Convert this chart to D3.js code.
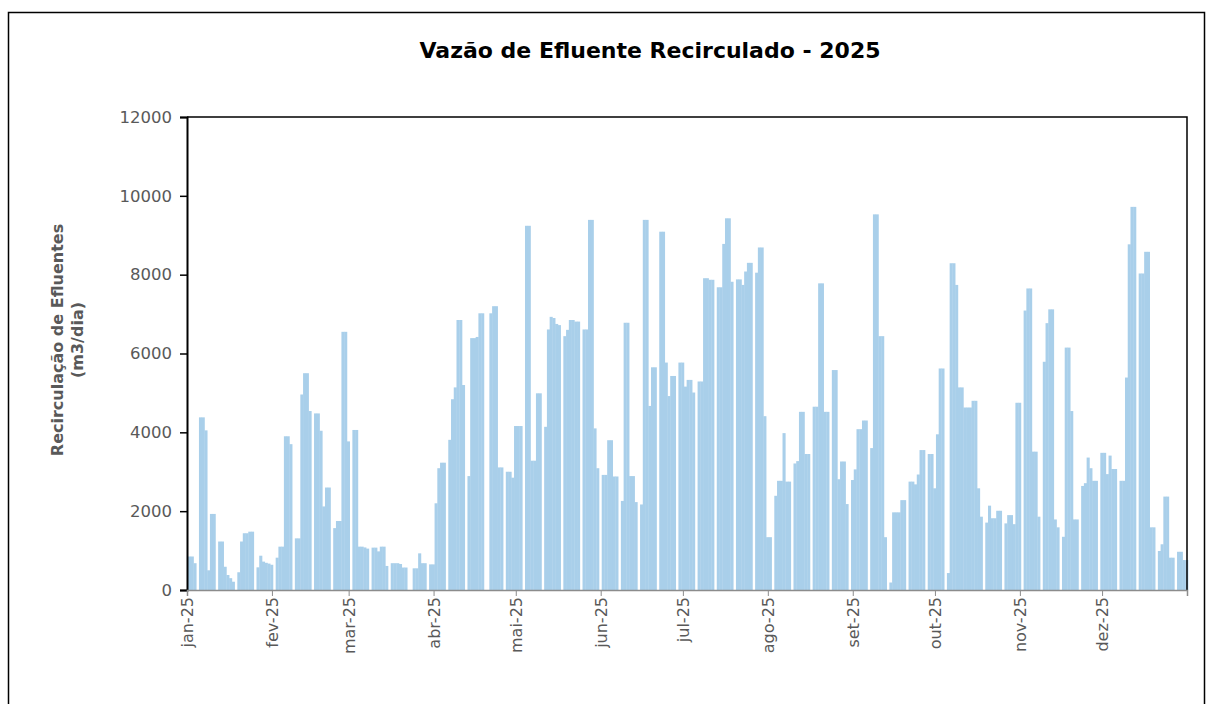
<!DOCTYPE html>
<html>
<head>
<meta charset="utf-8">
<script src="https://cdn.jsdelivr.net/npm/d3@7"></script>
<style>
body { margin: 0; background: #fff; }
svg text { font-family: 'DejaVu Sans', Verdana, sans-serif; }
</style>
</head>
<body>
<script>
// vazão diária (m3/dia), um array por mês
let jan = [850, 850, 680, 0, 4380, 4380, 4050, 500, 1930, 1930, 0, 1230, 1230, 590, 380, 300, 210, 0, 450, 1230, 1440, 1440, 1480, 1480, 0, 575, 870, 720, 690, 670, 640];
let fev = [0, 820, 1100, 1100, 3900, 3900, 3700, 0, 1310, 1310, 4960, 5500, 5500, 4540, 0, 4480, 4480, 4040, 2120, 2600, 2600, 0, 1570, 1750, 1750, 6550, 6550, 3770];
let mar = [0, 4060, 4060, 1100, 1100, 1080, 1050, 0, 1075, 1075, 980, 1100, 1100, 610, 0, 680, 680, 680, 660, 570, 570, 0, 0, 550, 550, 930, 680, 680, 0, 650, 650];
let abr = [2200, 3090, 3230, 3230, 0, 3810, 4840, 5140, 6850, 6850, 5200, 0, 2890, 6390, 6390, 6420, 7020, 7020, 0, 0, 7020, 7200, 7200, 3110, 3110, 0, 3000, 3000, 2850, 4160];
let mai = [4160, 4160, 0, 9240, 9240, 3280, 3280, 4990, 4990, 0, 4140, 6610, 6930, 6900, 6750, 6720, 0, 6440, 6600, 6850, 6850, 6810, 6810, 0, 6610, 6610, 9390, 9390, 4100, 3090, 0];
let jun = [2920, 2920, 3800, 3800, 2880, 2880, 0, 2260, 6780, 6780, 2890, 2890, 2230, 0, 2170, 9390, 9390, 4670, 5650, 5650, 0, 9090, 9090, 5770, 4920, 5430, 5430, 0, 5770, 5770];
let jul = [5160, 5330, 5330, 5010, 0, 5290, 5290, 7910, 7910, 7870, 7870, 0, 7680, 7680, 8780, 9430, 9430, 7820, 0, 7880, 7880, 7740, 8080, 8300, 8300, 0, 8050, 8690, 8690, 4410, 1340];
let ago = [1340, 0, 2390, 2770, 2770, 3980, 2750, 2750, 0, 3210, 3270, 4520, 4520, 3450, 3450, 0, 4650, 4650, 7780, 7780, 4520, 4520, 0, 5580, 5580, 2810, 3260, 3260, 2180, 0, 2790];
let set = [3060, 4080, 4080, 4300, 4300, 0, 3600, 9530, 9530, 6440, 6440, 1340, 0, 190, 1970, 1970, 1970, 2280, 2280, 0, 2750, 2750, 2680, 2930, 3550, 3550, 0, 3450, 3450, 2580];
let out = [3950, 5620, 5620, 0, 430, 8290, 8290, 7740, 5140, 5140, 4630, 4630, 4630, 4800, 4800, 2580, 1860, 0, 1710, 2140, 1820, 1820, 2010, 2010, 0, 1690, 1900, 1900, 1670, 4750, 4750];
let nov = [0, 7090, 7650, 7650, 3510, 3510, 1860, 0, 5790, 6770, 7120, 7120, 1790, 1590, 0, 1350, 6150, 6150, 4540, 1790, 1790, 0, 2640, 2710, 3360, 3090, 2770, 2770, 0, 3480];
let dez = [3480, 2940, 3410, 3070, 3070, 0, 2770, 2770, 5390, 8770, 9720, 9720, 0, 8030, 8030, 8580, 8580, 1590, 1590, 0, 990, 1160, 2370, 2370, 820, 820, 0, 970, 970, 760, 760];

let monthLabels = ['jan-25', 'fev-25', 'mar-25', 'abr-25', 'mai-25', 'jun-25', 'jul-25', 'ago-25', 'set-25', 'out-25', 'nov-25', 'dez-25'];
let yTicks = [0, 2000, 4000, 6000, 8000, 10000, 12000];

let values = [].concat(jan, fev, mar, abr, mai, jun, jul, ago, set, out, nov, dez);
let start = new Date(Date.UTC(2025, 0, 1)),
    end = new Date(Date.UTC(2026, 0, 1));
let days = d3.utcDay.range(start, end);
let data = days.map(function(d, i) { return {date: d, value: values[i]}; });
let monthStarts = d3.utcMonth.range(start, end);

let width = 1208,
    height = 704,
    plotLeft = 187,
    plotRight = 1187,
    plotTop = 117,
    plotBottom = 590;

let svg = d3.select('body')
    .append('svg')
    .attr('width', width)
    .attr('height', height);

// moldura externa
svg.append('rect')
    .attr('x', 8.5)
    .attr('y', 12.5)
    .attr('width', 1196)
    .attr('height', 720)
    .attr('fill', 'none')
    .attr('stroke', '#000')
    .attr('stroke-width', 1.5);

let x = d3.scaleUtc().domain([start, end]).range([plotLeft, plotRight]);
let y = d3.scaleLinear().domain([0, 12000]).range([plotBottom, plotTop]);

// barras diárias (leve sobreposição para as emendas ficarem suaves)
svg.selectAll('rect.bar')
    .data(data)
    .enter()
    .append('rect')
    .attr('class', 'bar')
    .attr('x', function(d) { return x(d.date) + 1; })
    .attr('y', function(d) { return y(d.value); })
    .attr('width', function(d) { return x(d3.utcDay.offset(d.date, 1)) - x(d.date) + 0.35; })
    .attr('height', function(d) { return plotBottom - y(d.value); })
    .attr('fill', '#a9cfea');

// borda da área do gráfico
svg.append('path')
    .attr('d', `M${plotLeft},${plotTop}H${plotRight}V${plotBottom}`)
    .attr('fill', 'none')
    .attr('stroke', '#000')
    .attr('stroke-width', 1.5);

// eixo y
let axisY = d3.axisLeft(y).tickValues(yTicks).tickSize(7).tickPadding(8).tickFormat(d3.format('d'));
let gy = svg.append('g').attr('transform', `translate(${plotLeft},0)`).call(axisY);
gy.select('.domain').attr('stroke', '#000').attr('stroke-width', 2);
gy.selectAll('.tick line').attr('stroke', '#000').attr('stroke-width', 1.5);
gy.selectAll('.tick text').attr('fill', '#595959').style('font-size', '16.5px');

// eixo x
let axisX = d3.axisBottom(x).tickValues(monthStarts).tickSize(6).tickFormat(function(d, i) { return monthLabels[i]; });
let gx = svg.append('g').attr('transform', `translate(0,${plotBottom})`).call(axisX);
gx.select('.domain').attr('stroke', '#8c8c8c').attr('stroke-width', 1.5);
gx.selectAll('.tick line').attr('stroke', '#8c8c8c');
gx.selectAll('.tick text')
    .attr('fill', '#595959')
    .style('font-size', '16px')
    .attr('text-anchor', 'end')
    .attr('transform', 'rotate(-90)')
    .attr('x', -7)
    .attr('y', 0)
    .attr('dy', '0.35em');

// título
svg.append('text')
    .attr('x', 650)
    .attr('y', 58)
    .attr('text-anchor', 'middle')
    .attr('font-weight', 'bold')
    .attr('font-size', '22px')
    .attr('fill', '#000')
    .text('Vazão de Efluente Recirculado - 2025');

// título do eixo y
let ylab = svg.append('text')
    .attr('transform', 'translate(63,340) rotate(-90)')
    .attr('text-anchor', 'middle')
    .attr('font-weight', 'bold')
    .attr('font-size', '16px')
    .attr('fill', '#595959');
ylab.append('tspan').attr('x', 0).attr('y', 0).text('Recirculação de Efluentes');
ylab.append('tspan').attr('x', 0).attr('y', 20).text('(m3/dia)');
</script>
</body>
</html>
